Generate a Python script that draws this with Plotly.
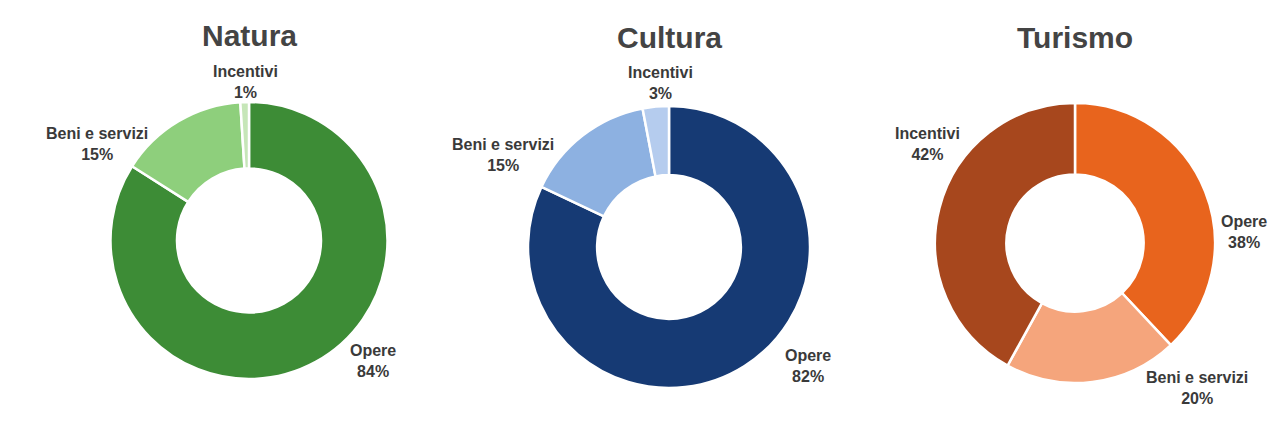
import plotly.graph_objects as go

# Ripartizione delle risorse per tipologia di intervento
categories = ["Opere", "Beni e servizi", "Incentivi"]
natura_values = [84, 15, 1]
cultura_values = [82, 15, 3]
turismo_values = [38, 20, 42]
titles = ["Natura", "Cultura", "Turismo"]

W, H = 1275, 430

natura_colors = ["#3d8c36", "#8ecf7c", "#c6e6b8"]
cultura_colors = ["#163a74", "#8db1e1", "#b5ccee"]
turismo_colors = ["#e8641d", "#f5a57c", "#a7471d"]

# donut geometry in pixels: centre x, centre y, outer radius, hole ratio
geometry = [
    (249, 240.5, 138.5, 0.52),
    (669, 247, 141, 0.51),
    (1075, 243, 140, 0.49),
]
title_pos = [(249, 36), (669, 38), (1075, 38)]
# label anchors (pixels) in category order
label_pos = [
    [(373, 361), (97, 144), (245, 82)],
    [(808, 366), (503, 155), (660, 83)],
    [(1244, 232), (1197, 388), (928, 144)],
]

series = [natura_values, cultura_values, turismo_values]
palettes = [natura_colors, cultura_colors, turismo_colors]

fig = go.Figure()
annotations = []
for i, (vals, cols) in enumerate(zip(series, palettes)):
    cx, cy, r, hole = geometry[i]
    fig.add_trace(go.Pie(
        labels=categories,
        values=vals,
        hole=hole,
        sort=False,
        direction="clockwise",
        rotation=0,
        marker=dict(colors=cols, line=dict(color="white", width=2.5)),
        textinfo="none",
        hoverinfo="label+percent",
        showlegend=False,
        domain=dict(x=[(cx - r) / W, (cx + r) / W],
                    y=[1 - (cy + r) / H, 1 - (cy - r) / H]),
    ))
    tx, ty = title_pos[i]
    annotations.append(dict(
        text=f"<b>{titles[i]}</b>", x=tx / W, y=1 - ty / H,
        xref="paper", yref="paper", showarrow=False,
        xanchor="center", yanchor="middle",
        font=dict(family="Liberation Sans, Arial, sans-serif", size=30, color="#444444"),
    ))
    for cat, v, (lx, ly) in zip(categories, vals, label_pos[i]):
        annotations.append(dict(
            text=f"<b>{cat}<br>{v}%</b>", x=lx / W, y=1 - ly / H,
            xref="paper", yref="paper", showarrow=False,
            xanchor="center", yanchor="middle", align="center",
            font=dict(family="Liberation Sans, Arial, sans-serif", size=16, color="#3a3a3a"),
        ))

fig.update_layout(
    width=W, height=H,
    margin=dict(l=0, r=0, t=0, b=0),
    paper_bgcolor="white",
    plot_bgcolor="white",
    annotations=annotations,
)

fig.write_html("out.html")
